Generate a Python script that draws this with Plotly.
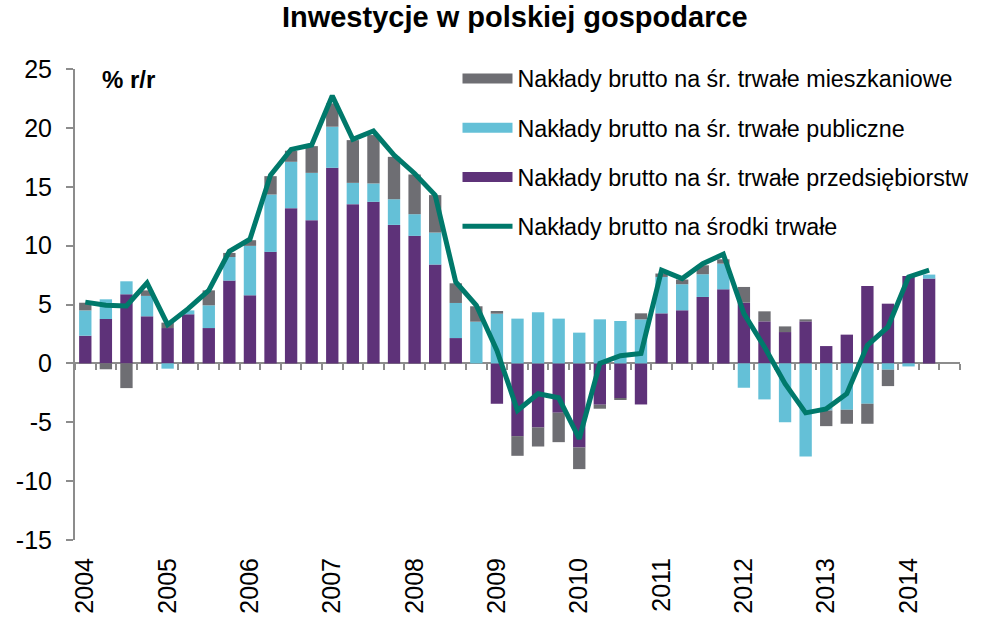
import plotly.graph_objects as go

# ---- data (quarterly, 2004Q1 .. 2014Q2), % y/y ----
years = ["2004", "2005", "2006", "2007", "2008", "2009", "2010", "2011", "2012", "2013", "2014"]
y_ticks = [-15, -10, -5, 0, 5, 10, 15, 20, 25]
y_ticktext = ["-15", "-10", "-5", "0", "5", "10", "15", "20", "25"]

przedsiebiorstw = [2.35, 3.77, 5.87, 4.0,
                   3.0, 4.17, 3.0, 7.03,
                   5.78, 9.47, 13.18, 12.16,
                   16.61, 13.52, 13.72, 11.76,
                   10.83, 8.39, 2.15, 0.0,
                   -3.43, -6.18, -5.44, -4.19,
                   -7.14, -3.51, -2.95, -3.49,
                   4.25, 4.51, 5.64, 6.29,
                   5.16, 3.57, 2.66, 3.57,
                   1.47, 2.44, 6.58, 5.07,
                   7.42, 7.2]

publiczne = [2.15, 1.67, 1.1, 1.73,
             -0.45, 0.33, 1.93, 2.0,
             4.2, 4.87, 3.94, 4.02,
             3.49, 1.81, 1.56, 2.18,
             1.84, 2.72, 2.98, 3.54,
             4.22, 3.8, 4.34, 3.8,
             2.61, 3.74, 3.6, 3.74,
             3.09, 2.21, 1.93, 2.18,
             -2.07, -3.06, -5.0, -7.91,
             -4.0, -3.94, -3.43, -0.54,
             -0.26, 0.34]

mieszkaniowe = [0.65, -0.5, -2.1, 0.47,
                0.46, 0.0, 1.27, 0.35,
                0.48, 1.56, 0.94, 2.27,
                1.98, 3.63, 4.11, 3.6,
                3.37, 3.18, 1.67, 1.31,
                0.23, -1.67, -1.62, -2.5,
                -1.84, -0.34, -0.08, 0.51,
                0.29, 0.4, 0.76, 0.37,
                1.33, 0.85, 0.48, 0.17,
                -1.33, -1.19, -1.7, -1.39,
                0.0, 0.0]

srodki_trwale = [5.2, 4.93, 4.87, 6.83,
                 3.29, 4.65, 6.2, 9.52,
                 10.54, 15.99, 18.17, 18.54,
                 22.73, 19.02, 19.73, 17.69,
                 16.13, 14.29, 6.91, 4.93,
                 1.1, -4.0, -2.58, -2.92,
                 -6.4, 0.0, 0.65, 0.85,
                 7.91, 7.2, 8.47, 9.27,
                 4.22, 1.39, -1.73, -4.2,
                 -3.86, -2.58, 1.53, 3.09,
                 7.34, 7.91]

n = len(srodki_trwale)
x = list(range(n))
n_slots = 43  # axis spans one extra (empty) quarter

FONT = "Liberation Sans, Arial, sans-serif"
C_PURPLE = "#5E3279"
C_CYAN = "#64C0D7"
C_GRAY = "#6E6E73"
C_LINE = "#00796B"
AXIS_C = "#8C8C8C"

N_PRZ = "Nakłady brutto na śr. trwałe przedsiębiorstw"
N_PUB = "Nakłady brutto na śr. trwałe publiczne"
N_MIE = "Nakłady brutto na śr. trwałe mieszkaniowe"
N_TOT = "Nakłady brutto na środki trwałe"

fig = go.Figure()
fig.add_trace(go.Bar(x=x, y=przedsiebiorstw, name=N_PRZ, showlegend=False,
                     marker=dict(color=C_PURPLE, line=dict(width=0)), legendgroup="c"))
fig.add_trace(go.Bar(x=x, y=publiczne, name=N_PUB, showlegend=False,
                     marker=dict(color=C_CYAN, line=dict(width=0)), legendgroup="b"))
fig.add_trace(go.Bar(x=x, y=mieszkaniowe, name=N_MIE, showlegend=False,
                     marker=dict(color=C_GRAY, line=dict(width=0)), legendgroup="a"))
fig.add_trace(go.Scatter(x=x, y=srodki_trwale, name=N_TOT,
                         mode="lines", line=dict(color=C_LINE, width=5),
                         xaxis="x2", yaxis="y", legendrank=4, legendgroup="d"))

# legend entries for the bar series drawn as wide swatches (Excel style)
for nm, col, grp, rank in [(N_MIE, C_GRAY, "a", 1), (N_PUB, C_CYAN, "b", 2), (N_PRZ, C_PURPLE, "c", 3)]:
    fig.add_trace(go.Scatter(x=[None], y=[None], name=nm, mode="lines",
                             line=dict(color=col, width=11), legendgroup=grp, legendrank=rank,
                             hoverinfo="skip"))

rng = [-0.5, n_slots - 0.5]
fig.update_layout(
    width=990, height=617, autosize=False,
    paper_bgcolor="white", plot_bgcolor="white",
    margin=dict(l=75, r=30, t=69, b=77, autoexpand=False),
    barmode="relative", bargap=0.4,
    font=dict(family=FONT, color="black"),
    title=dict(text="<b>Inwestycje w polskiej gospodarce</b>", x=0.52, xanchor="center",
               y=0.972, yanchor="middle", font=dict(size=29, family=FONT, color="black")),
    xaxis=dict(range=rng, tickmode="array", tickvals=[4 * i for i in range(len(years))],
               ticktext=years, tickangle=-90, tickfont=dict(size=25, family=FONT, color="black"),
               showline=False, ticks="", showgrid=False, zeroline=False, ticklabelstandoff=12,
               automargin=False),
    xaxis2=dict(range=rng, overlaying="x", anchor="free", position=0.375, side="bottom",
                showline=True, linecolor=AXIS_C, linewidth=2, ticks="outside", ticklen=6,
                tickwidth=1.5, tickcolor=AXIS_C, tickmode="array",
                tickvals=[i - 0.5 for i in range(n_slots + 1)], showticklabels=False,
                showgrid=False, zeroline=False, layer="below traces", automargin=False),
    yaxis=dict(range=[-15, 25], tickmode="array", tickvals=y_ticks, ticktext=y_ticktext,
               showline=True, linecolor=AXIS_C, linewidth=2,
               ticks="outside", ticklen=7, tickwidth=1.5, tickcolor=AXIS_C, ticklabelstandoff=9,
               tickfont=dict(size=25, family=FONT, color="black"), showgrid=False, zeroline=False,
               automargin=False),
    legend=dict(x=0.4322, xanchor="left", y=1.026, yanchor="top", bgcolor="rgba(0,0,0,0)",
                font=dict(size=23.3, family=FONT, color="black"), traceorder="grouped",
                tracegroupgap=16, itemwidth=50),
    showlegend=True,
    annotations=[dict(text="<b>% r/r</b>", xref="paper", yref="paper", x=0.028, y=0.977,
                      xanchor="left", yanchor="middle", showarrow=False,
                      font=dict(size=24, family=FONT, color="black"))],
)

fig.write_html("out.html", config={"displayModeBar": False},
               post_script="document.body.style.margin='0';")
